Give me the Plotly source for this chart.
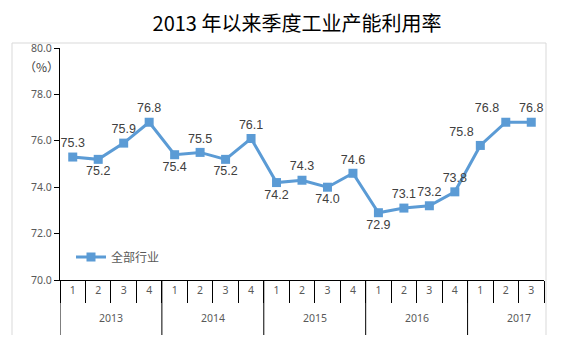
import plotly.graph_objects as go

years = ["2013", "2014", "2015", "2016", "2017"]
quarters = ["1", "2", "3", "4"] * 4 + ["1", "2", "3"]
year_of_point = ["2013"] * 4 + ["2014"] * 4 + ["2015"] * 4 + ["2016"] * 4 + ["2017"] * 3
values = [75.3, 75.2, 75.9, 76.8, 75.4, 75.5, 75.2, 76.1, 74.2, 74.3, 74.0, 74.6,
          72.9, 73.1, 73.2, 73.8, 75.8, 76.8, 76.8]
label_pos = ["top center", "bottom center", "top center", "top center",
             "bottom center", "top center", "bottom center", "top center",
             "bottom center", "top center", "bottom center", "top center",
             "bottom center", "top center", "top center", "top center",
             "top left", "top left", "top center"]
y_ticks = [70, 72, 74, 76, 78, 80]

categories = [f"{y}-Q{q}" for y, q in zip(year_of_point, quarters)]

W, H = 571, 351
L, R, T, B = 60, 27, 48, 71
pw, ph = W - L - R, H - T - B


def px(x):
    return (x - L) / pw


def py(y):
    return (H - B - y) / ph


fig = go.Figure()
fig.add_trace(go.Scatter(
    x=categories, y=values, mode="lines+markers+text",
    name="全部行业",
    line=dict(color="#5B9BD5", width=3),
    marker=dict(symbol="square", size=9, color="#5B9BD5"),
    text=[f"{v:.1f}" for v in values], textposition=label_pos,
    textfont=dict(size=12.5, color="#404040", family="Liberation Sans"),
    cliponaxis=False,
))

# year labels and dividers, positioned on the category axis
annotations = []
shapes = []
start = 0
for yr in years:
    n = year_of_point.count(yr)
    span = max(n, 4)  # the last (incomplete) year is centred as a full year
    centre = start + (span - 1) / 2
    annotations.append(dict(text=yr, x=centre, xref="x", y=py(318), yref="paper",
                            showarrow=False, xanchor="center", yanchor="middle",
                            font=dict(size=10.5, color="#595959", family="Noto Sans")))
    shapes.append(dict(type="line", xref="x", yref="paper", x0=start - 0.5, x1=start - 0.5,
                       y0=py(280), y1=py(335), line=dict(color="#000000", width=1)))
    start += n

annotations.append(dict(text="（%）", x=px(41), y=py(66), xref="paper", yref="paper",
                        xanchor="center", yanchor="middle", showarrow=False,
                        font=dict(size=12, color="#404040", family="Noto Sans CJK SC")))

frame = dict(color="#D9D9D9", width=1)
shapes += [
    dict(type="line", xref="paper", yref="paper", x0=px(12), x1=px(12), y0=py(43), y1=py(335), line=frame),
    dict(type="line", xref="paper", yref="paper", x0=px(12), x1=px(546), y0=py(43), y1=py(43), line=frame),
    dict(type="line", xref="paper", yref="paper", x0=px(546), x1=px(546), y0=py(43), y1=py(335), line=frame),
]

fig.update_layout(
    width=W, height=H,
    margin=dict(l=L, r=R, t=T, b=B),
    paper_bgcolor="white", plot_bgcolor="white",
    title=dict(text="2013 年以来季度工业产能利用率", x=297 / W, xref="container",
               y=1 - 24 / H, yref="container", yanchor="middle", xanchor="center",
               font=dict(size=20, color="#000000", family="Noto Sans CJK SC")),
    showlegend=True,
    legend=dict(x=px(71), y=py(257), xanchor="left", yanchor="middle",
                bgcolor="rgba(0,0,0,0)",
                font=dict(size=12, color="#595959", family="Noto Sans CJK SC")),
    xaxis=dict(type="category", tickvals=categories, ticktext=quarters,
               tickson="boundaries", showline=True, linecolor="#000000", linewidth=1,
               ticks="outside", ticklen=22, tickcolor="#000000", tickwidth=1,
               showgrid=False, tickfont=dict(size=10.5, color="#595959", family="Noto Sans"),
               range=[-0.5, 18.5]),
    yaxis=dict(range=[70, 80], tickvals=y_ticks, tickformat=".1f", showline=True,
               linecolor="#000000", linewidth=1, ticks="outside", ticklen=5,
               tickcolor="#000000", showgrid=False, zeroline=False,
               tickfont=dict(size=10.5, color="#595959", family="Noto Sans")),
    annotations=annotations,
    shapes=shapes,
)

fig.write_html("out.html")
